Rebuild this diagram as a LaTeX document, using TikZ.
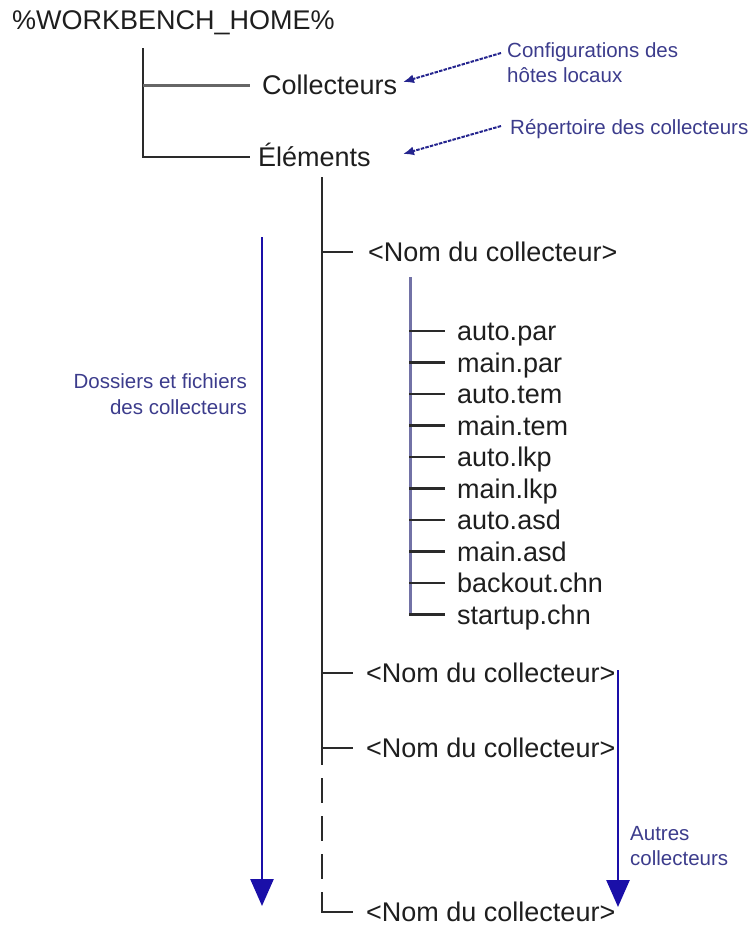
\documentclass[tikz,border=0pt]{standalone}
\usepackage{fontspec}
\setmainfont{Liberation Sans}
\usetikzlibrary{arrows.meta}
\definecolor{txt}{HTML}{1E1E1E}
\definecolor{treec}{HTML}{2A2A2A}
\definecolor{subc}{HTML}{7272A6}
\definecolor{bigblue}{HTML}{1A0FA8}
\definecolor{labc}{HTML}{3C3C8C}
\definecolor{smallblue}{HTML}{24248E}
\tikzset{
  maintext/.style={font=\fontsize{27}{30}\selectfont, text=txt, text height=19pt, text depth=0pt, inner sep=0pt, anchor=west},
  labtext/.style={font=\fontsize{20.5}{25.5}\selectfont, text=labc, inner sep=0pt},
  treeline/.style={draw=treec, line width=2.5pt},
  graybranch/.style={draw=black!60, line width=3pt},
  subline/.style={draw=subc, line width=3pt},
  bigarrow/.style={draw=bigblue, line width=2.6pt, -{Triangle[width=23pt,length=27pt]}},
  smallarrow/.style={draw=smallblue, line width=2pt, dash pattern=on 3.5pt off 1.2pt, -{Latex[length=11pt,width=9pt]}},
}
\begin{document}
\begin{tikzpicture}[x=1pt,y=-1pt]
\useasboundingbox (0,0) rectangle (752,927);
% texts of the tree
\node[maintext] (root) at (12,20) {\%WORKBENCH\_HOME\%};
\node[maintext] (coll) at (262,85) {Collecteurs};
\node[maintext] (elem) at (258,157) {Éléments};
\node[maintext] (nom1) at (368,252) {<Nom du collecteur>};
\foreach \n/\t [count=\i from 0] in {i1/auto.par,i2/main.par,i3/auto.tem,i4/main.tem,i5/auto.lkp,i6/main.lkp,i7/auto.asd,i8/main.asd,i9/backout.chn,i10/startup.chn}
  \node[maintext] (\n) at (457,{331+31.5*\i}) {\t};
\node[maintext] (nom2) at (366,673) {<Nom du collecteur>};
\node[maintext] (nom3) at (366,748) {<Nom du collecteur>};
\node[maintext] (nom4) at (366,912) {<Nom du collecteur>};
% upper tree
\coordinate (t0) at (143,48);
\draw[treeline] (t0) |- ([xshift=-8pt]elem.west);
\draw[graybranch] (t0 |- coll.west) -- ([xshift=-12pt]coll.west);
% elements trunk
\coordinate (e0) at (322,177);
\coordinate (e1) at (322,765);
\coordinate (e2) at (322,778);
\coordinate (e3) at (322,893);
\draw[treeline] (e0) -- (e1);
\draw[treeline, dash pattern=on 25pt off 13pt] (e2) -- (e3);
\draw[treeline] (e3) |- ([xshift=-13pt]nom4.west);
\draw[treeline] (e0 |- nom1.west) -- ([xshift=-15pt]nom1.west);
\draw[treeline] (e0 |- nom2.west) -- ([xshift=-13pt]nom2.west);
\draw[treeline] (e0 |- nom3.west) -- ([xshift=-13pt]nom3.west);
% sub tree
\coordinate (s0) at (410,277);
\draw[subline] (s0) -- (s0 |- i10.west);
\foreach \n in {i1,i2,i3,i4,i5,i6,i7,i8,i9,i10}
  \draw[treeline] ([xshift=-1pt]s0 |- \n.west) -- ([xshift=-12pt]\n.west);
% labels (base anchor = baseline of the last line)
\node[labtext, align=left, anchor=base west] (conf) at (507,82.5) {Configurations des\\hôtes locaux};
\node[labtext, anchor=base west] (rep) at (510,134) {Répertoire des collecteurs};
\node[labtext, align=right, anchor=base east] (dos) at (247,414) {Dossiers et fichiers\\des collecteurs};
\node[labtext, align=left, anchor=base west] (aut) at (630,865.5) {Autres\\collecteurs};
% small arrows
\coordinate (a1s) at (501,53);
\coordinate (a1e) at (403,82);
\coordinate (a2s) at (501,126);
\coordinate (a2e) at (403,154);
\draw[smallarrow] (a1s) -- (a1e);
\draw[smallarrow] (a2s) -- (a2e);
% big arrows
\coordinate (la0) at (262,237);
\coordinate (la1) at (262,906);
\draw[bigarrow] (la0) -- (la1);
\coordinate (ra0) at (618,670);
\coordinate (ra1) at (618,907);
\draw[bigarrow] (ra0) -- (ra1);
\end{tikzpicture}
\end{document}
